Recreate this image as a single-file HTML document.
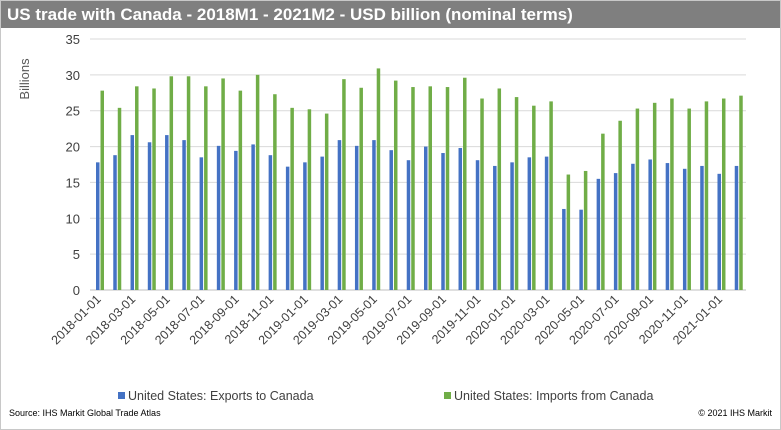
<!DOCTYPE html>
<html><head><meta charset="utf-8"><style>
body{margin:0;background:#fff;font-family:"Liberation Sans",Arial,sans-serif}
#wrap{position:relative;width:779px;height:428px;border:1px solid #c8c8c8;overflow:hidden}
#title{position:absolute;left:0;top:0;width:779px;height:27px;background:#7f7f7f;color:#fff;font-weight:bold;font-size:17px;line-height:27px;padding-left:6px;box-sizing:border-box}
</style></head><body>
<div id="wrap">
<div id="title">US trade with Canada - 2018M1 - 2021M2 - USD billion (nominal terms)</div>
<svg id="svg" width="779" height="428" style="position:absolute;left:0;top:0"></svg>
</div>
<script>
const months=["2018-01-01","2018-02-01","2018-03-01","2018-04-01","2018-05-01","2018-06-01","2018-07-01","2018-08-01","2018-09-01","2018-10-01","2018-11-01","2018-12-01","2019-01-01","2019-02-01","2019-03-01","2019-04-01","2019-05-01","2019-06-01","2019-07-01","2019-08-01","2019-09-01","2019-10-01","2019-11-01","2019-12-01","2020-01-01","2020-02-01","2020-03-01","2020-04-01","2020-05-01","2020-06-01","2020-07-01","2020-08-01","2020-09-01","2020-10-01","2020-11-01","2020-12-01","2021-01-01","2021-02-01"];
const exportsData=[17.8,18.8,21.6,20.6,21.6,20.9,18.5,20.1,19.4,20.3,18.8,17.2,17.8,18.6,20.9,20.1,20.9,19.5,18.1,20.0,19.1,19.8,18.1,17.3,17.8,18.5,18.6,11.3,11.2,15.5,16.3,17.6,18.2,17.7,16.9,17.3,16.2,17.3];
const importsData=[27.8,25.4,28.4,28.1,29.8,29.8,28.4,29.5,27.8,30.0,27.3,25.4,25.2,24.6,29.4,28.2,30.9,29.2,28.3,28.4,28.3,29.6,26.7,28.1,26.9,25.7,26.3,16.1,16.6,21.8,23.6,25.3,26.1,26.7,25.3,26.3,26.7,27.1];
const yTicks=[0,5,10,15,20,25,30,35];
const svg=document.getElementById('svg');
const NS='http://www.w3.org/2000/svg';
const X0=89,X1=745,Y0=289,Y1=38,YMAX=35;
const gw=(X1-X0)/months.length;
const y=v=>Y0-(v/YMAX)*(Y0-Y1);
const gx=i=>X0+i*gw;
function mk(t,a){const e=document.createElementNS(NS,t);for(const k in a)e.setAttribute(k,a[k]);svg.appendChild(e);return e;}
yTicks.forEach(t=>{
 const l=mk('line',{x1:X0,x2:X1,y1:y(t),y2:y(t),stroke:t===0?'#bfbfbf':'#d9d9d9','stroke-width':1});
 
 
 const tx=mk('text',{x:79,y:y(t)+5,'text-anchor':'end','font-size':13,fill:'#404040'});
 tx.textContent=t;
 
 
});
const yt=mk('text',{x:28,y:78,'text-anchor':'middle','font-size':13,fill:'#595959',transform:'rotate(-90 28 78)'});
yt.textContent='Billions';


months.forEach((m,i)=>{
 const b=mk('rect',{x:gx(i)+6,y:y(exportsData[i]),width:3.5,height:Y0-y(exportsData[i]),fill:'#4472c4'});
 
 
 const g=mk('rect',{x:gx(i)+10.5,y:y(importsData[i]),width:3.5,height:Y0-y(importsData[i]),fill:'#70ad47'});
 
 
 if(i%2===0){
  const cx=gx(i)+gw/2+3, cy=Y0+10;
  const t=mk('text',{x:cx,y:cy,'text-anchor':'end','font-size':12.5,fill:'#404040',transform:`rotate(-45 ${cx} ${cy})`});
  t.textContent=m;
  
  
 }
});
function legend(x,color,label,name){
 const r=mk('rect',{x:x,y:391,width:7,height:7,fill:color});
 
 
 const t=mk('text',{x:x+10,y:399,'font-size':12.5,fill:'#404040'});
 t.textContent=label;
 
 
}
legend(117,'#4472c4','United States: Exports to Canada','legend-entry-exports');
legend(443,'#70ad47','United States: Imports from Canada','legend-entry-imports');
const s=mk('text',{x:8,y:415,'font-size':9,fill:'#000'});
s.textContent='Source: IHS Markit Global Trade Atlas';


const c=mk('text',{x:771,y:415,'font-size':9,fill:'#000','text-anchor':'end'});
c.textContent='© 2021 IHS Markit';


</script>
</body></html>
